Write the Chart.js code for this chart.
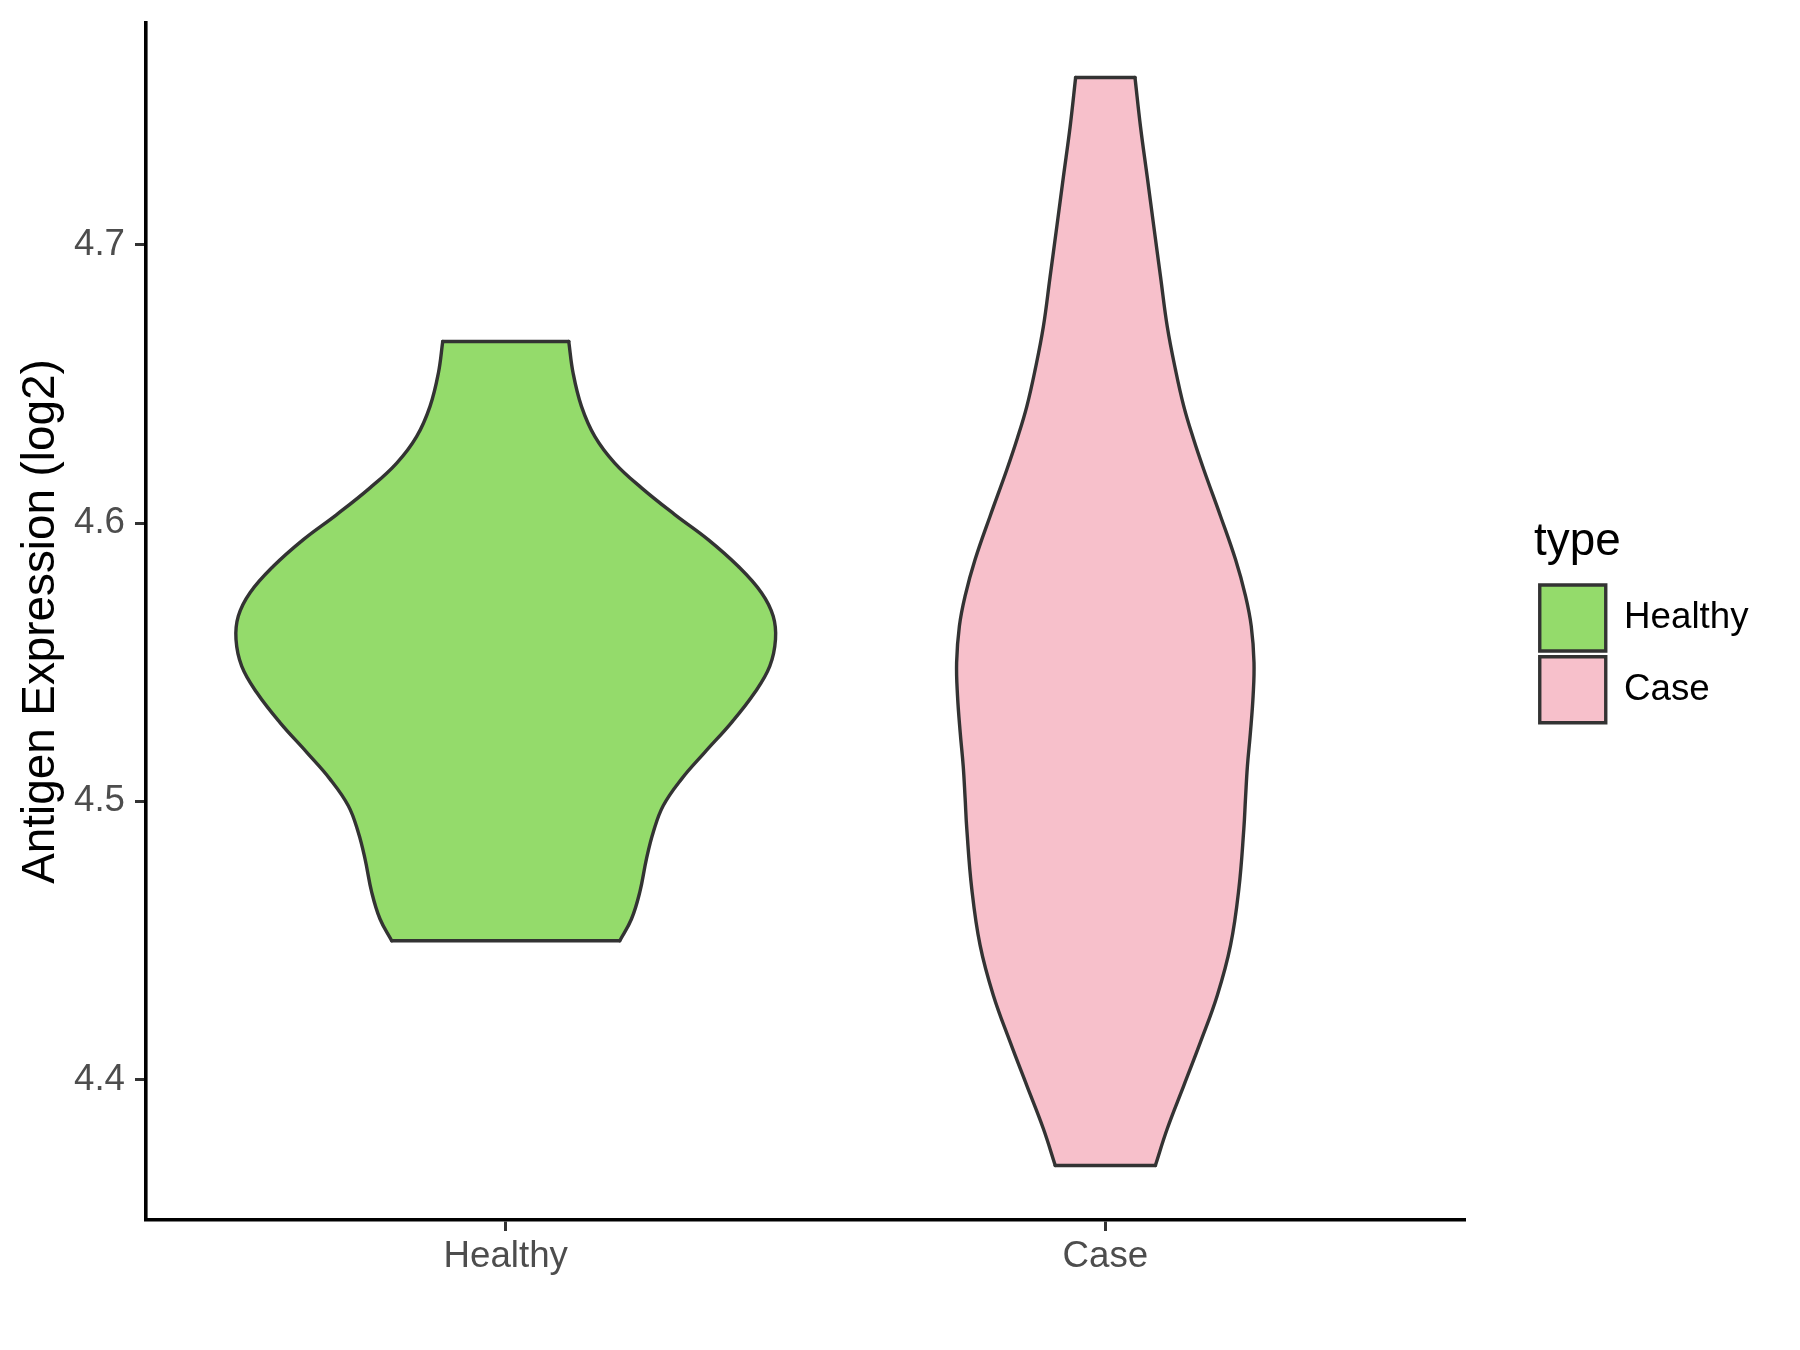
<!DOCTYPE html>
<html>
<head>
<meta charset="utf-8">
<script src="https://cdn.jsdelivr.net/npm/chart.js@4.4.1/dist/chart.umd.min.js"></script>
<style>
html, body { margin: 0; padding: 0; background: #ffffff; }
#wrap { width: 1800px; height: 1350px; }
</style>
</head>
<body>
<div id="wrap"><canvas id="c" width="1800" height="1350"></canvas></div>
<script>
// ---- data ----
const categories = ['Healthy', 'Case'];
const categoryPositions = [1, 2];
const fillColors = ['#94DB6B', '#F7C0CB'];

// violin outlines: expression level (y) and half-width (x-axis units)
const healthyLevels = [4.6653, 4.6539, 4.6420, 4.6312, 4.6216, 4.6127, 4.6031, 4.5941, 4.5845, 4.5750, 4.5666, 4.5582, 4.5486, 4.5391, 4.5283, 4.5176, 4.5080, 4.4984, 4.4888, 4.4793, 4.4673, 4.4577, 4.4499];
const healthyHalfWidths = [0.1051, 0.1124, 0.1263, 0.1485, 0.1818, 0.2264, 0.2819, 0.3376, 0.3877, 0.4265, 0.4460, 0.4499, 0.4404, 0.4153, 0.3765, 0.3319, 0.2931, 0.2626, 0.2459, 0.2347, 0.2235, 0.2097, 0.1902];

const caseLevels = [4.7602, 4.7425, 4.7245, 4.7066, 4.6886, 4.6707, 4.6551, 4.6420, 4.6306, 4.6192, 4.6025, 4.5869, 4.5738, 4.5630, 4.5499, 4.5379, 4.5247, 4.5127, 4.5014, 4.4900, 4.4685, 4.4482, 4.4302, 4.4135, 4.3978, 4.3823, 4.3691];
const caseHalfWidths = [0.0495, 0.0587, 0.0699, 0.0809, 0.0921, 0.1033, 0.1171, 0.1309, 0.1466, 0.1643, 0.1922, 0.2172, 0.2339, 0.2434, 0.2480, 0.2465, 0.2420, 0.2370, 0.2339, 0.2310, 0.2227, 0.2088, 0.1867, 0.1588, 0.1309, 0.1033, 0.0835];

const yTickValues = [4.4, 4.5, 4.6, 4.7];
const yRange = [4.3495, 4.7798];
const xRange = [0.4, 2.6];
const yTitle = 'Antigen Expression (log2)';
const legendTitle = 'type';

// ---- build datasets ----
const FONT = "'Liberation Sans', Arial, Helvetica, sans-serif";
const violins = [
  { levels: healthyLevels, half: healthyHalfWidths },
  { levels: caseLevels, half: caseHalfWidths }
];

const datasets = [];
violins.forEach((v, k) => {
  const pos = categoryPositions[k];
  const n = v.levels.length;
  const left = v.levels.map((y, i) => ({ x: pos - v.half[i], y }));
  const right = v.levels.map((y, i) => ({ x: pos + v.half[i], y }));
  const base = {
    type: 'line', xAxisID: 'x', yAxisID: 'y',
    borderColor: '#333333', borderWidth: 3.4, borderCapStyle: 'round', borderJoinStyle: 'round',
    pointRadius: 0, pointHoverRadius: 0, fill: false,
    backgroundColor: fillColors[k], violin: k
  };
  datasets.push(Object.assign({}, base, { label: categories[k] + ' left', data: left, tension: 0.4, edge: 'L' }));
  datasets.push(Object.assign({}, base, { label: categories[k] + ' right', data: right, tension: 0.4, edge: 'R' }));
  datasets.push(Object.assign({}, base, { label: categories[k] + ' top', data: [left[0], right[0]], tension: 0 }));
  datasets.push(Object.assign({}, base, { label: categories[k] + ' bottom', data: [left[n - 1], right[n - 1]], tension: 0 }));
});

// fills the area between the left and right edges of each violin
const violinFill = {
  id: 'violinFill',
  beforeDatasetsDraw(chart) {
    const ctx = chart.ctx;
    const ds = chart.data.datasets;
    violins.forEach((v, k) => {
      const li = ds.findIndex(d => d.violin === k && d.edge === 'L');
      const ri = ds.findIndex(d => d.violin === k && d.edge === 'R');
      const lm = chart.getDatasetMeta(li), rm = chart.getDatasetMeta(ri);
      if (lm.dataset && lm.dataset.updateControlPoints) lm.dataset.updateControlPoints(chart.chartArea, 'x');
      if (rm.dataset && rm.dataset.updateControlPoints) rm.dataset.updateControlPoints(chart.chartArea, 'x');
      const L = lm.data, R = rm.data;
      const ok = p => p && p.cp1x !== undefined && p.cp2x !== undefined;
      ctx.save();
      ctx.beginPath();
      ctx.moveTo(L[0].x, L[0].y);
      for (let i = 1; i < L.length; i++) {
        const a = L[i - 1], b = L[i];
        if (ok(a) && ok(b)) ctx.bezierCurveTo(a.cp2x, a.cp2y, b.cp1x, b.cp1y, b.x, b.y);
        else ctx.lineTo(b.x, b.y);
      }
      ctx.lineTo(R[R.length - 1].x, R[R.length - 1].y);
      for (let i = R.length - 1; i > 0; i--) {
        const b = R[i], a = R[i - 1];
        if (ok(a) && ok(b)) ctx.bezierCurveTo(b.cp1x, b.cp1y, a.cp2x, a.cp2y, a.x, a.y);
        else ctx.lineTo(a.x, a.y);
      }
      ctx.closePath();
      ctx.fillStyle = fillColors[k];
      ctx.fill();
      ctx.restore();
    });
  }
};

const axisGrid = { drawOnChartArea: false, drawTicks: true, tickLength: 11, tickColor: '#333333', tickWidth: 3 };
const axisBorder = { display: true, color: '#000000', width: 3.6 };

new Chart(document.getElementById('c'), {
  type: 'line',
  data: { datasets },
  options: {
    responsive: false,
    animation: false,
    events: [],
    layout: { padding: { top: 23, left: 0, right: 41.5, bottom: 0 } },
    scales: {
      x: {
        type: 'linear', position: 'bottom', min: xRange[0], max: xRange[1],
        afterBuildTicks: s => { s.ticks = categoryPositions.map(v => ({ value: v })); },
        afterFit: s => { s.height = 130; s.paddingLeft = 0; s.paddingRight = 0; },
        ticks: {
          callback: v => { const i = categoryPositions.indexOf(v); return i >= 0 ? categories[i] : ''; },
          color: '#4D4D4D', font: { family: FONT, size: 36.7 }, padding: 3.5,
          maxRotation: 0, minRotation: 0, autoSkip: false
        },
        grid: axisGrid,
        border: axisBorder
      },
      y: {
        type: 'linear', position: 'left', min: yRange[0], max: yRange[1],
        afterBuildTicks: s => { s.ticks = yTickValues.map(v => ({ value: v })); },
        afterFit: s => { s.width = 146; s.paddingTop = 0; s.paddingBottom = 0; },
        ticks: {
          callback: v => Number(v).toFixed(1),
          color: '#4D4D4D', font: { family: FONT, size: 36.7 }, padding: 10
        },
        grid: axisGrid,
        border: axisBorder,
        title: {
          display: true, text: yTitle, color: '#000000',
          font: { family: FONT, size: 45.8 }, padding: { top: 13.8, bottom: 0 }
        }
      },
      spacer: {
        type: 'linear', axis: 'y', position: 'right', display: true,
        grid: { display: false }, border: { display: false }, ticks: { display: false },
        afterFit: s => { s.width = 69; s.paddingTop = 0; s.paddingBottom = 0; }
      }
    },
    plugins: {
      legend: {
        display: true, position: 'right', align: 'center', fullSize: false,
        onClick: () => {},
        title: {
          display: true, text: legendTitle, color: '#000000', position: 'start',
          font: { family: FONT, size: 45.8 }, padding: { top: 5, bottom: 4.7 }
        },
        labels: {
          boxWidth: 66, boxHeight: 66, padding: 5.7, color: '#000000',
          font: { family: FONT, size: 36.7 },
          generateLabels: () => categories.map((c, k) => ({
            text: c, fillStyle: fillColors[k], strokeStyle: '#333333', lineWidth: 3.4,
            hidden: false, datasetIndex: k * 4, fontColor: '#000000'
          }))
        }
      },
      tooltip: { enabled: false }
    }
  },
  plugins: [violinFill]
});
</script>
</body>
</html>
